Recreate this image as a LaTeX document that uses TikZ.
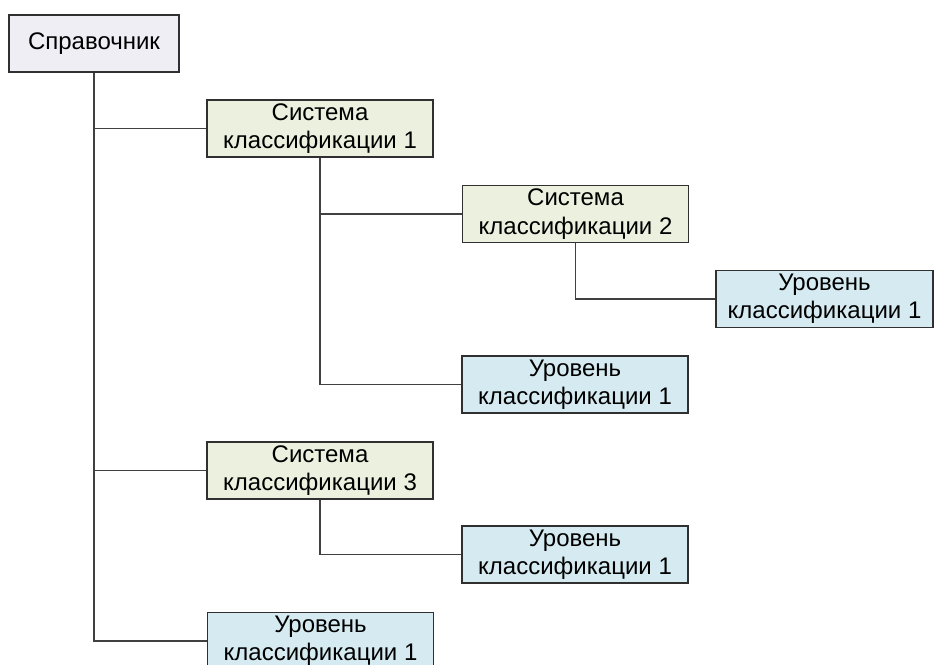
\documentclass[tikz,border=0pt]{standalone}
\usepackage{fontspec}
\setmainfont{Liberation Sans}
\usetikzlibrary{positioning}
\definecolor{rootFill}{HTML}{F0EEF5}
\definecolor{sysFill}{HTML}{ECF0DF}
\definecolor{levelFill}{HTML}{D5EBF1}
\definecolor{edgeDark}{HTML}{303030}
\definecolor{linkGray}{HTML}{404040}

\begin{document}
\begin{tikzpicture}[x=0.75pt, y=-0.75pt,
    every node/.style={font=\fontsize{18}{21.3}\selectfont, align=center, inner sep=0pt},
    treebox/.style={draw=edgeDark, line width=1.1pt, rectangle, minimum height=43pt},
    rootbox/.style={treebox, fill=rootFill, minimum width=127.5pt},
    sysbox/.style={treebox, fill=sysFill, minimum width=169.5pt},
    levelbox/.style={treebox, fill=levelFill, minimum width=169.5pt},
    link/.style={draw=linkGray, line width=0.8pt}]
    \useasboundingbox (0,0) rectangle (934,664);
    \node[rootbox] (root) at (94,43.5) {Справочник};
    \foreach \n/\x/\y/\k in {sysA/320/128.5/1, sysB/575.5/214/2, sysC/320/470.5/3}{
      \node[sysbox] (\n) at (\x,\y) {Система\\классификации \k};
    }
    \node[levelbox, minimum width=162.75pt] (lvlA) at (824.5,299) {Уровень\\классификации 1};
    \foreach \n/\x/\y in {lvlB/575/384.5, lvlC/575/554.5, lvlD/320.5/641}{
      \node[levelbox] (\n) at (\x,\y) {Уровень\\классификации 1};
    }
    % connectors
    \draw[link] (root) |- (sysA);
    \draw[link] (root) |- (sysC);
    \draw[link] (root) |- (lvlD);
    \draw[link] (sysA) |- (sysB);
    \draw[link] (sysA) |- (lvlB);
    \draw[link] (sysB) |- (lvlA);
    \draw[link] (sysC) |- (lvlC);
  \end{tikzpicture}
\end{document}
